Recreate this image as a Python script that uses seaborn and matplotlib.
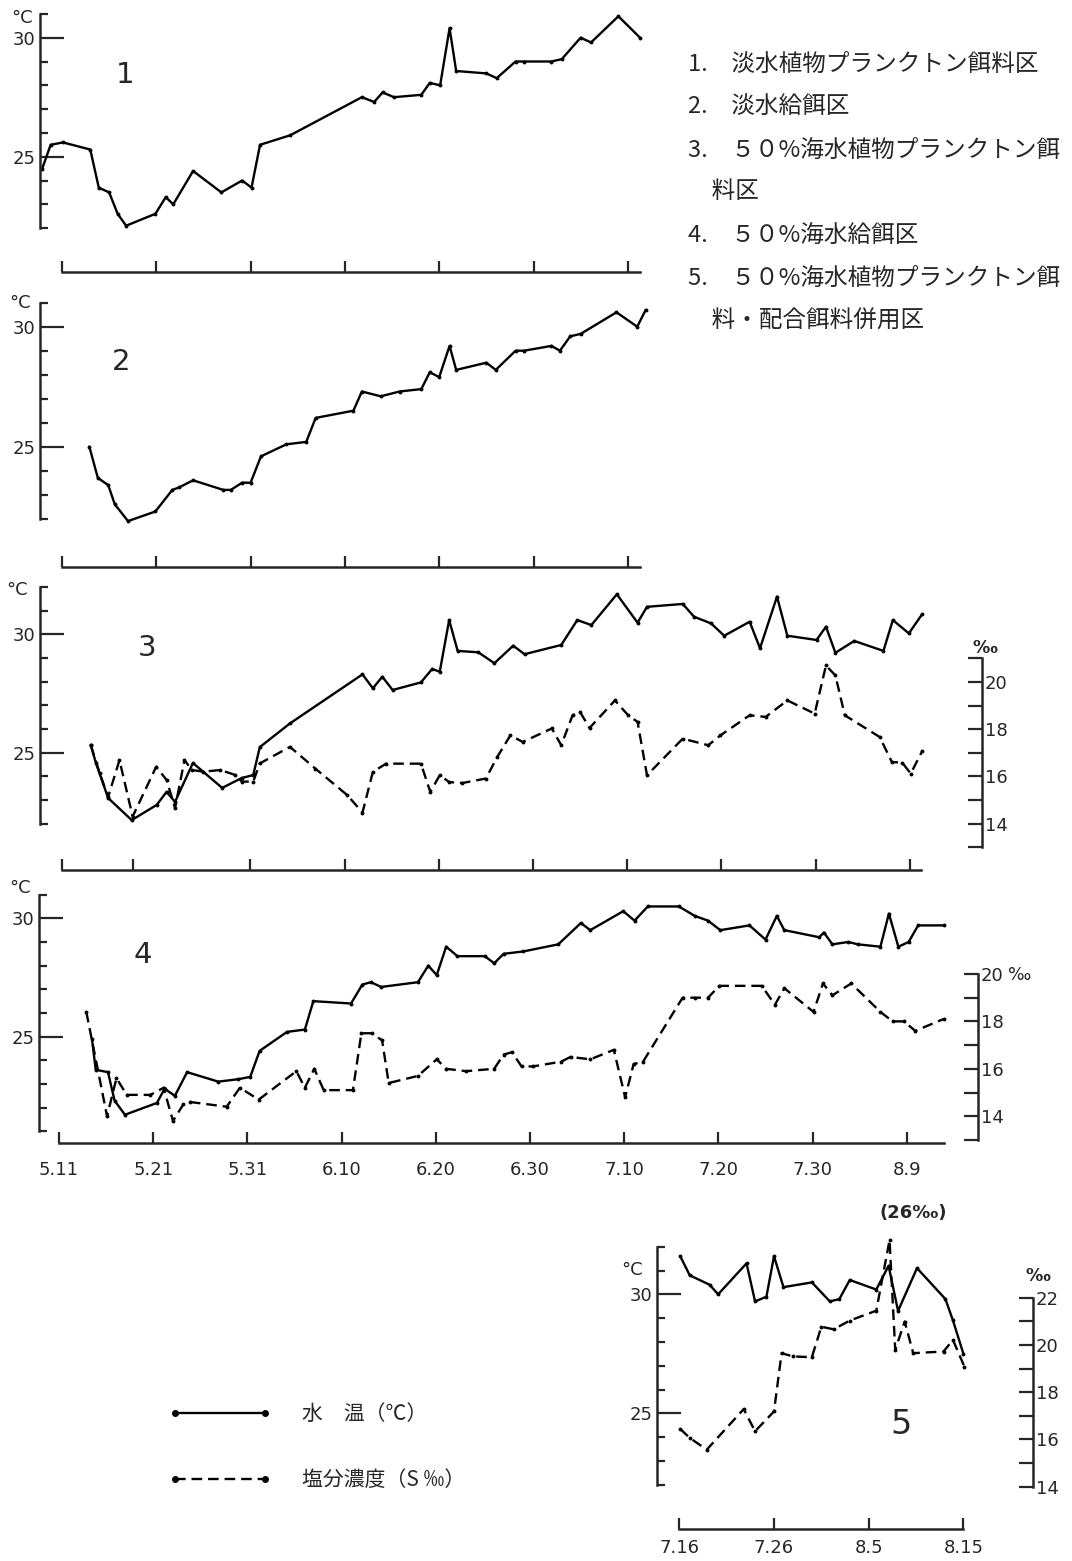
import matplotlib
matplotlib.use("Agg")
import matplotlib.pyplot as plt
import seaborn as sns
from matplotlib.lines import Line2D
from matplotlib.ticker import FixedLocator

# ---------------- DATA ----------------
# days counted from 5.11 (panels 1-4) ; from 7.16 (panel 5)
p1_day = [-2.1, -1.2, 0.1, 3.0, 3.9, 5.0, 5.9, 6.8, 9.9, 11.0, 11.8, 13.9, 16.9, 19.1, 20.1, 21.0,
          24.2, 31.8, 33.1, 34.0, 35.2, 38.1, 39.0, 40.1, 41.1, 41.8, 45.0, 46.1, 48.1, 49.0,
          51.9, 53.0, 55.0, 56.1, 59.0, 61.3]
p1_temp = [24.5, 25.5, 25.6, 25.3, 23.7, 23.5, 22.6, 22.1, 22.6, 23.3, 23.0, 24.4, 23.5, 24.0, 23.7, 25.5,
           25.9, 27.5, 27.3, 27.7, 27.5, 27.6, 28.1, 28.0, 30.4, 28.6, 28.5, 28.3, 29.0, 29.0,
           29.0, 29.1, 30.0, 29.8, 30.9, 30.0]

p2_day = [2.9, 3.8, 4.9, 5.6, 7.0, 9.9, 11.7, 12.4, 13.9, 17.1, 17.9, 19.1, 20.0, 21.1, 23.8, 25.9,
          26.9, 30.9, 31.8, 33.8, 35.8, 38.1, 39.0, 40.0, 41.1, 41.8, 45.0, 46.0, 48.1, 49.0,
          51.9, 52.8, 53.9, 55.0, 58.8, 61.0, 61.9]
p2_temp = [25.0, 23.7, 23.4, 22.6, 21.9, 22.3, 23.2, 23.3, 23.6, 23.2, 23.2, 23.5, 23.5, 24.6, 25.1, 25.2,
           26.2, 26.5, 27.3, 27.1, 27.3, 27.4, 28.1, 27.9, 29.2, 28.2, 28.5, 28.2, 29.0, 29.0,
           29.2, 29.0, 29.6, 29.7, 30.6, 30.0, 30.7]

p3_tday = [3.05, 3.6, 4.9, 7.4, 10.05, 11.1, 12.0, 13.9, 17.0, 19.1, 20.3, 21.0, 24.2, 31.9, 33.0, 34.0,
           35.1, 38.1, 39.3, 40.1, 41.1, 42.0, 44.2, 45.9, 47.9, 49.1, 53.0, 54.7, 56.2, 58.9,
           61.1, 62.1, 65.9, 67.1, 68.9, 70.3, 73.0, 74.1, 75.9, 77.0, 80.1, 81.1, 82.1, 84.1,
           87.2, 88.2, 89.9, 91.3]
p3_temp = [25.33, 24.57, 23.09, 22.16, 22.80, 23.35, 22.93, 24.57, 23.52, 23.94, 24.06, 25.24, 26.24,
           28.31, 27.72, 28.21, 27.65, 27.97, 28.54, 28.42, 30.60, 29.30, 29.24, 28.78, 29.52, 29.16,
           29.55, 30.60, 30.39, 31.69, 30.49, 31.16, 31.28, 30.74, 30.46, 29.94, 30.53, 29.41, 31.59,
           29.94, 29.76, 30.32, 29.22, 29.72, 29.30, 30.60, 30.04, 30.84]
p3_sday = [3.05, 4.0, 4.9, 6.1, 7.5, 10.0, 11.1, 12.0, 13.0, 13.8, 15.0, 16.8, 18.4, 19.1, 20.3, 21.0,
           24.2, 26.9, 30.3, 31.9, 33.0, 34.4, 38.1, 39.1, 40.1, 41.1, 42.5, 45.0, 46.2, 47.6,
           48.9, 52.0, 53.0, 54.2, 55.0, 56.0, 58.7, 60.1, 61.1, 62.1, 65.9, 68.6, 69.9, 73.0,
           74.7, 77.0, 79.9, 81.1, 82.1, 83.1, 86.8, 88.1, 89.2, 90.1, 91.3]
p3_sal = [17.33, 16.14, 15.13, 16.69, 14.30, 16.41, 15.85, 14.66, 16.69, 16.27, 16.20, 16.27, 16.06,
          15.78, 15.78, 16.55, 17.25, 16.33, 15.20, 14.47, 16.19, 16.54, 16.54, 15.34, 16.05, 15.76,
          15.72, 15.91, 16.82, 17.74, 17.46, 18.03, 17.32, 18.59, 18.73, 18.05, 19.22, 18.59, 18.31,
          16.05, 17.60, 17.32, 17.74, 18.59, 18.52, 19.22, 18.66, 20.70, 20.28, 18.59, 17.67, 16.61,
          16.58, 16.12, 17.06]

p4_tday = [3.5, 3.9, 5.2, 5.9, 7.0, 10.4, 11.2, 12.3, 13.6, 16.9, 19.0, 20.3, 21.3, 24.2, 26.1, 27.0,
           31.0, 32.2, 33.1, 34.2, 38.1, 39.2, 40.1, 41.1, 42.3, 45.2, 46.2, 47.2, 49.3, 53.0,
           55.4, 56.4, 59.9, 61.1, 62.5, 65.8, 67.5, 68.9, 70.2, 73.3, 75.0, 76.2, 77.0, 80.7,
           81.2, 82.1, 83.8, 84.8, 87.2, 88.1, 89.1, 90.2, 91.2, 93.9]
p4_temp = [24.9, 23.6, 23.5, 22.3, 21.7, 22.2, 22.8, 22.5, 23.5, 23.1, 23.2, 23.3, 24.4, 25.2, 25.3, 26.5,
           26.4, 27.2, 27.3, 27.1, 27.3, 28.0, 27.6, 28.8, 28.4, 28.4, 28.1, 28.5, 28.6, 28.9,
           29.8, 29.5, 30.3, 29.9, 30.5, 30.5, 30.1, 29.9, 29.5, 29.7, 29.1, 30.1, 29.5, 29.2,
           29.4, 28.9, 29.0, 28.9, 28.8, 30.2, 28.8, 29.0, 29.7, 29.7]
p4_sday = [2.9, 5.1, 6.1, 7.2, 9.7, 11.1, 12.1, 13.2, 13.9, 17.8, 19.2, 21.2, 25.2, 26.1, 27.1, 28.1,
           31.2, 32.1, 33.2, 34.3, 35.0, 38.1, 40.1, 41.1, 43.2, 46.2, 47.2, 48.1, 49.1, 50.3,
           53.3, 54.3, 56.4, 58.9, 60.1, 61.0, 62.0, 66.2, 67.5, 68.9, 70.1, 74.6, 76.0, 77.0,
           80.1, 81.1, 82.1, 84.1, 87.2, 88.5, 89.7, 90.9, 93.9]
p4_sal = [18.4, 14.0, 15.6, 14.9, 14.9, 15.2, 13.8, 14.5, 14.6, 14.4, 15.2, 14.7, 15.9, 15.2, 16.0, 15.1,
          15.1, 17.5, 17.5, 17.2, 15.4, 15.7, 16.4, 16.0, 15.9, 16.0, 16.6, 16.7, 16.1, 16.1,
          16.3, 16.5, 16.4, 16.8, 14.8, 16.2, 16.3, 19.0, 19.0, 19.0, 19.5, 19.5, 18.7, 19.4,
          18.4, 19.6, 19.1, 19.6, 18.4, 18.0, 18.0, 17.6, 18.1]

p5_tday = [0.1, 1.1, 3.2, 4.1, 7.1, 8.0, 9.2, 10.0, 11.0, 14.0, 15.9, 16.9, 18.0, 20.8, 22.1, 23.1,
           25.1, 28.1, 28.9, 30.0]
p5_temp = [31.6, 30.8, 30.4, 30.0, 31.3, 29.7, 29.9, 31.6, 30.3, 30.5, 29.7, 29.8, 30.6, 30.2, 31.2, 29.3,
           31.1, 29.8, 28.9, 27.5]
p5_sday = [0.1, 1.1, 2.9, 6.8, 8.0, 10.0, 10.8, 12.0, 14.0, 15.0, 16.3, 18.0, 20.8, 22.2, 22.8, 23.8,
           24.7, 27.9, 28.9, 30.1]
p5_sal = [16.44, 16.06, 15.56, 17.28, 16.34, 17.18, 19.65, 19.51, 19.48, 20.77, 20.66, 21.03, 21.45,
          24.44, 19.79, 20.99, 19.65, 19.72, 20.21, 19.08]

date_ticks_main = [0, 10, 20, 30, 40, 50, 60, 70, 80, 90]
date_labels_main = ["5.11", "5.21", "5.31", "6.10", "6.20", "6.30", "7.10", "7.20", "7.30", "8.9"]
date_ticks_p5 = [0, 10, 20, 30]
date_labels_p5 = ["7.16", "7.26", "8.5", "8.15"]

group_labels = ["1.　淡水植物プランクトン餌料区",
                "2.　淡水給餌区",
                "3.　５０%海水植物プランクトン餌",
                "　料区",
                "4.　５０%海水給餌区",
                "5.　５０%海水植物プランクトン餌",
                "　料・配合餌料併用区"]
legend_labels = ["水　温（℃）", "塩分濃度（S ‰）"]

# ---------------- STYLE ----------------
sns.set_style("ticks")
plt.rcParams["font.family"] = ["DejaVu Sans", "Noto Sans CJK JP"]
plt.rcParams["axes.linewidth"] = 1.8
plt.rcParams["xtick.major.width"] = 1.6
plt.rcParams["ytick.major.width"] = 1.6
plt.rcParams["ytick.minor.width"] = 1.6

W, H = 1072, 1561
fig = plt.figure(figsize=(W / 100, H / 100), dpi=100)
fig.patch.set_facecolor("white")

LW = 1.7
DASH = (0, (4.5, 2.5))
TICKFS = 13


def make_axes(left, top, right, bottom, x0, pxd, y30, ppd):
    ax = fig.add_axes([left / W, 1 - bottom / H, (right - left) / W, (bottom - top) / H])
    ax.set_xlim((left - x0) / pxd, (right - x0) / pxd)
    ax.set_ylim(30 - (bottom - y30) / ppd, 30 - (top - y30) / ppd)
    ax.patch.set_alpha(0)
    for s in ["top", "right"]:
        ax.spines[s].set_visible(False)
    return ax


def style_left(ax, lo, hi, xlo, xhi, xticks, labels=None, pad=14):
    ax.spines["left"].set_bounds(lo, hi)
    ax.spines["bottom"].set_bounds(xlo, xhi)
    ax.set_yticks([25, 30])
    ax.set_yticklabels(["25", "30"])
    ax.yaxis.set_minor_locator(FixedLocator(list(range(lo, hi + 1))))
    ax.tick_params(axis="y", which="major", direction="in", length=17, pad=3, labelsize=TICKFS)
    ax.tick_params(axis="y", which="minor", direction="in", length=6)
    ax.set_xticks(xticks)
    if labels is None:
        ax.tick_params(axis="x", direction="in", length=8, labelbottom=False)
    else:
        ax.set_xticklabels(labels)
        ax.tick_params(axis="x", direction="in", length=8, pad=pad, labelsize=TICKFS)
    ax.set_xlabel("")
    ax.set_ylabel("")


def style_right(ax2, s_ref, s_ref_px, pps, top, bottom, lo, hi, labeled):
    ax2.set_ylim(s_ref - (bottom - s_ref_px) / pps, s_ref + (s_ref_px - top) / pps)
    for s in ["top", "left", "bottom"]:
        ax2.spines[s].set_visible(False)
    ax2.spines["right"].set_visible(True)
    ax2.spines["right"].set_bounds(lo, hi)
    ticks = list(range(lo, hi + 1))
    ax2.set_yticks(ticks)
    ax2.set_yticklabels([str(t) if t in labeled else "" for t in ticks])
    ax2.tick_params(axis="y", direction="in", length=10, pad=2, labelsize=TICKFS)
    ax2.set_ylabel("")
    ax2.patch.set_alpha(0)


def line(ax, x, y, dashed=False):
    kw = dict(color="black", linewidth=LW, marker="o", markersize=2.8,
              markeredgewidth=0, sort=False, estimator=None, ax=ax)
    if dashed:
        kw["linestyle"] = DASH
    sns.lineplot(x=x, y=y, **kw)


def ftext(x, y, s, **kw):
    kw.setdefault("va", "center")
    fig.text(x / W, 1 - y / H, s, **kw)


# ---- Panel 1
ax1 = make_axes(40, 8, 648, 272, 62, 9.43, 37.7, 23.8)
line(ax1, p1_day, p1_temp)
style_left(ax1, 22, 31, 0, 61.3, [0, 10, 20, 30, 40, 50, 60])

# ---- Panel 2
ax2 = make_axes(40, 293, 652, 567, 62, 9.43, 326.7, 24.0)
line(ax2, p2_day, p2_temp)
style_left(ax2, 22, 31, 0, 61.3, [0, 10, 20, 30, 40, 50, 60])

# ---- Panel 3
ax3 = make_axes(40, 580, 982, 870, 62, 9.42, 634.3, 23.7)
line(ax3, p3_tday, p3_temp)
style_left(ax3, 22, 32, 0, 91.2, [0, 7.5, 20, 30, 40, 50, 60, 70, 80, 90])
ax3b = ax3.twinx()
line(ax3b, p3_sday, p3_sal, dashed=True)
style_right(ax3b, 20, 682, 23.6, 580, 870, 13, 21, [14, 16, 18, 20])

# ---- Panel 4
ax4 = make_axes(39, 885, 978, 1143, 59, 9.42, 918.3, 23.67)
line(ax4, p4_tday, p4_temp)
style_left(ax4, 21, 31, 0, 94, date_ticks_main, date_labels_main, pad=13)
ax4b = ax4.twinx()
line(ax4b, p4_sday, p4_sal, dashed=True)
style_right(ax4b, 20, 974, 23.7, 885, 1143, 13, 20, [14, 16, 18, 20])

# ---- Panel 5
ax5 = make_axes(657, 1228, 1033, 1529, 679.3, 9.47, 1294.3, 23.8)
line(ax5, p5_tday, p5_temp)
style_left(ax5, 22, 32, 0, 30, date_ticks_p5, date_labels_p5, pad=7)
ax5b = ax5.twinx()
line(ax5b, p5_sday, p5_sal, dashed=True)
style_right(ax5b, 22, 1297.7, 23.6, 1228, 1529, 14, 22, [14, 16, 18, 20, 22])

# ---- unit and panel labels
for (x, y) in [(22, 18), (20, 303), (17, 590), (20, 888), (632, 1270)]:
    ftext(x, y, "°C", fontsize=13, ha="center")
ftext(985, 648, "‰", fontsize=12.5, ha="center", fontweight="bold")
ftext(1020, 975, "‰", fontsize=12.5, ha="center")
ftext(1038, 1276, "‰", fontsize=12.5, ha="center", fontweight="bold")
ftext(913, 1213, "(26‰)", fontsize=13, ha="center", fontweight="bold")
for (x, y, s, fs) in [(125, 75, "1", 21), (121, 362, "2", 21), (147, 648, "3", 21),
                      (143, 955, "4", 21), (901, 1425, "5", 24)]:
    ftext(x, y, s, fontsize=fs, ha="center")

# ---- group list (top right)
ys = [64, 106, 150, 191, 236, 278, 321]
for y, s in zip(ys, group_labels):
    ftext(688, y, s, fontsize=17, ha="left",
          family=["Noto Sans CJK JP", "DejaVu Sans"])

# ---- legend
handles = [Line2D([], [], color="black", lw=LW, marker="o", markersize=4),
           Line2D([], [], color="black", lw=LW, marker="o", markersize=4, linestyle=DASH)]
leg = fig.legend(handles, legend_labels, loc="center left",
                 bbox_to_anchor=(150 / W, 1 - 1447 / H), frameon=False, numpoints=2,
                 handlelength=4.9, handletextpad=1.5, labelspacing=2.1,
                 prop={"family": ["Noto Sans CJK JP", "DejaVu Sans"], "size": 15})

fig.savefig("out.png", dpi=100, facecolor="white")
